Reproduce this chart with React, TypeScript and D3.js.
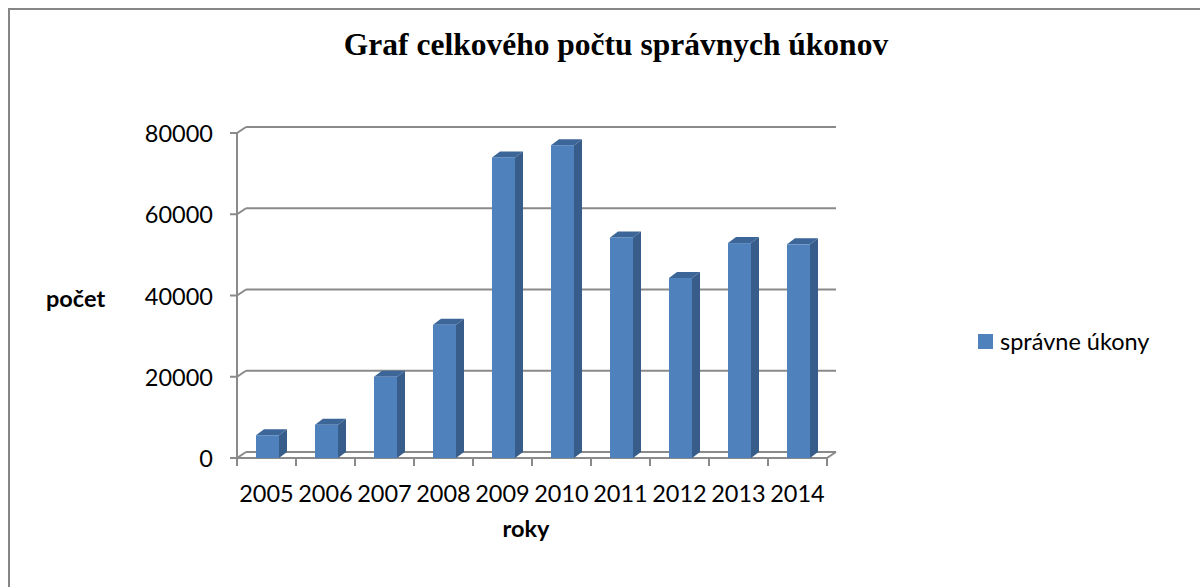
import React from 'react';
import * as d3 from 'd3';

const years = ['2005', '2006', '2007', '2008', '2009', '2010', '2011', '2012', '2013', '2014'];
const values = [5600, 8200, 20000, 32800, 74000, 77000, 54300, 44300, 52900, 52600];
const yTicks = [0, 20000, 40000, 60000, 80000];
const seriesName = 'správne úkony';

const W = 1200;
const H = 587;
const DX = 9;   // depth offset (x)
const DY = -6;  // depth offset (y)
const SANS = 'Lato, "Open Sans", sans-serif';
const FS = 23.5;

const App = () => {
  const x = d3.scaleBand<string>().domain(years).range([237, 827]).padding(0);
  const y = d3.scaleLinear().domain([0, 80000]).range([458, 133]);
  const step = x.step();
  const barW = step * 0.39;
  const depth = 8;
  const x0 = x.range()[0];
  const x1 = x.range()[1];

  return (
    <svg width={W} height={H} style={{ position: 'absolute', left: 0, top: 0, background: '#fff' }}>
      {/* outer frame */}
      <rect x={9} y={9} width={W + 10} height={H + 10} fill="#fff" stroke="#868686" strokeWidth={2} />

      <text x={616} y={55} textAnchor="middle" fontFamily='"Liberation Serif", "Times New Roman", serif'
        fontWeight="bold" fontSize={31.5}>Graf celkového počtu správnych úkonov</text>

      {/* back wall gridlines */}
      {yTicks.map(t => (
        <g key={t}>
          <line x1={x0 + DX} x2={x1 + DX} y1={y(t) + DY} y2={y(t) + DY} stroke="#8a8a8a" strokeWidth={2} />
          <polyline points={`${x0 - 7},${y(t)} ${x0},${y(t)} ${x0 + DX},${y(t) + DY}`} fill="none" stroke="#8a8a8a" strokeWidth={2} />
          <text x={213} y={y(t) + 9} textAnchor="end" fontFamily={SANS} fontSize={FS} fill="#000">{t}</text>
        </g>
      ))}

      {/* floor and vertical axis */}
      <line x1={x0} x2={x0} y1={y(80000)} y2={y(0)} stroke="#8a8a8a" strokeWidth={2} />
      <line x1={x0} x2={x1} y1={y(0)} y2={y(0)} stroke="#8a8a8a" strokeWidth={2} />
      <line x1={x1} x2={x1 + DX} y1={y(0)} y2={y(0) + DY} stroke="#8a8a8a" strokeWidth={2} />
      {years.map(yr => (
        <line key={'t' + yr} x1={x(yr)!} x2={x(yr)!} y1={y(0)} y2={y(0) + 8} stroke="#8a8a8a" strokeWidth={2} />
      ))}
      <line x1={x1} x2={x1} y1={y(0)} y2={y(0) + 8} stroke="#8a8a8a" strokeWidth={2} />

      {/* 3D bars */}
      {years.map((yr, i) => {
        const bx = x(yr)! + (step - barW) / 2 + 1;
        const top = y(values[i]);
        const base = y(0);
        return (
          <g key={yr}>
            <polygon points={`${bx + barW},${top} ${bx + barW + depth},${top + DY} ${bx + barW + depth},${base + DY} ${bx + barW},${base}`} fill="#385d8a" />
            <polygon points={`${bx},${top} ${bx + depth},${top + DY} ${bx + barW + depth},${top + DY} ${bx + barW},${top}`} fill="#3c6598" />
            <rect x={bx} y={top} width={barW} height={base - top} fill="#4f81bd" />
          </g>
        );
      })}

      {years.map(yr => (
        <text key={'l' + yr} x={x(yr)! + step / 2} y={502} textAnchor="middle" fontFamily={SANS} fontSize={FS}>{yr}</text>
      ))}

      <text x={526} y={537} textAnchor="middle" fontFamily={SANS} fontWeight="bold" fontSize={FS}>roky</text>
      <text x={46} y={307} fontFamily={SANS} fontWeight="bold" fontSize={FS}>počet</text>

      <rect x={978} y={334} width={15} height={15} fill="#4f81bd" />
      <text x={1000} y={350} fontFamily={SANS} fontSize={FS}>{seriesName}</text>
    </svg>
  );
};

export default App;
